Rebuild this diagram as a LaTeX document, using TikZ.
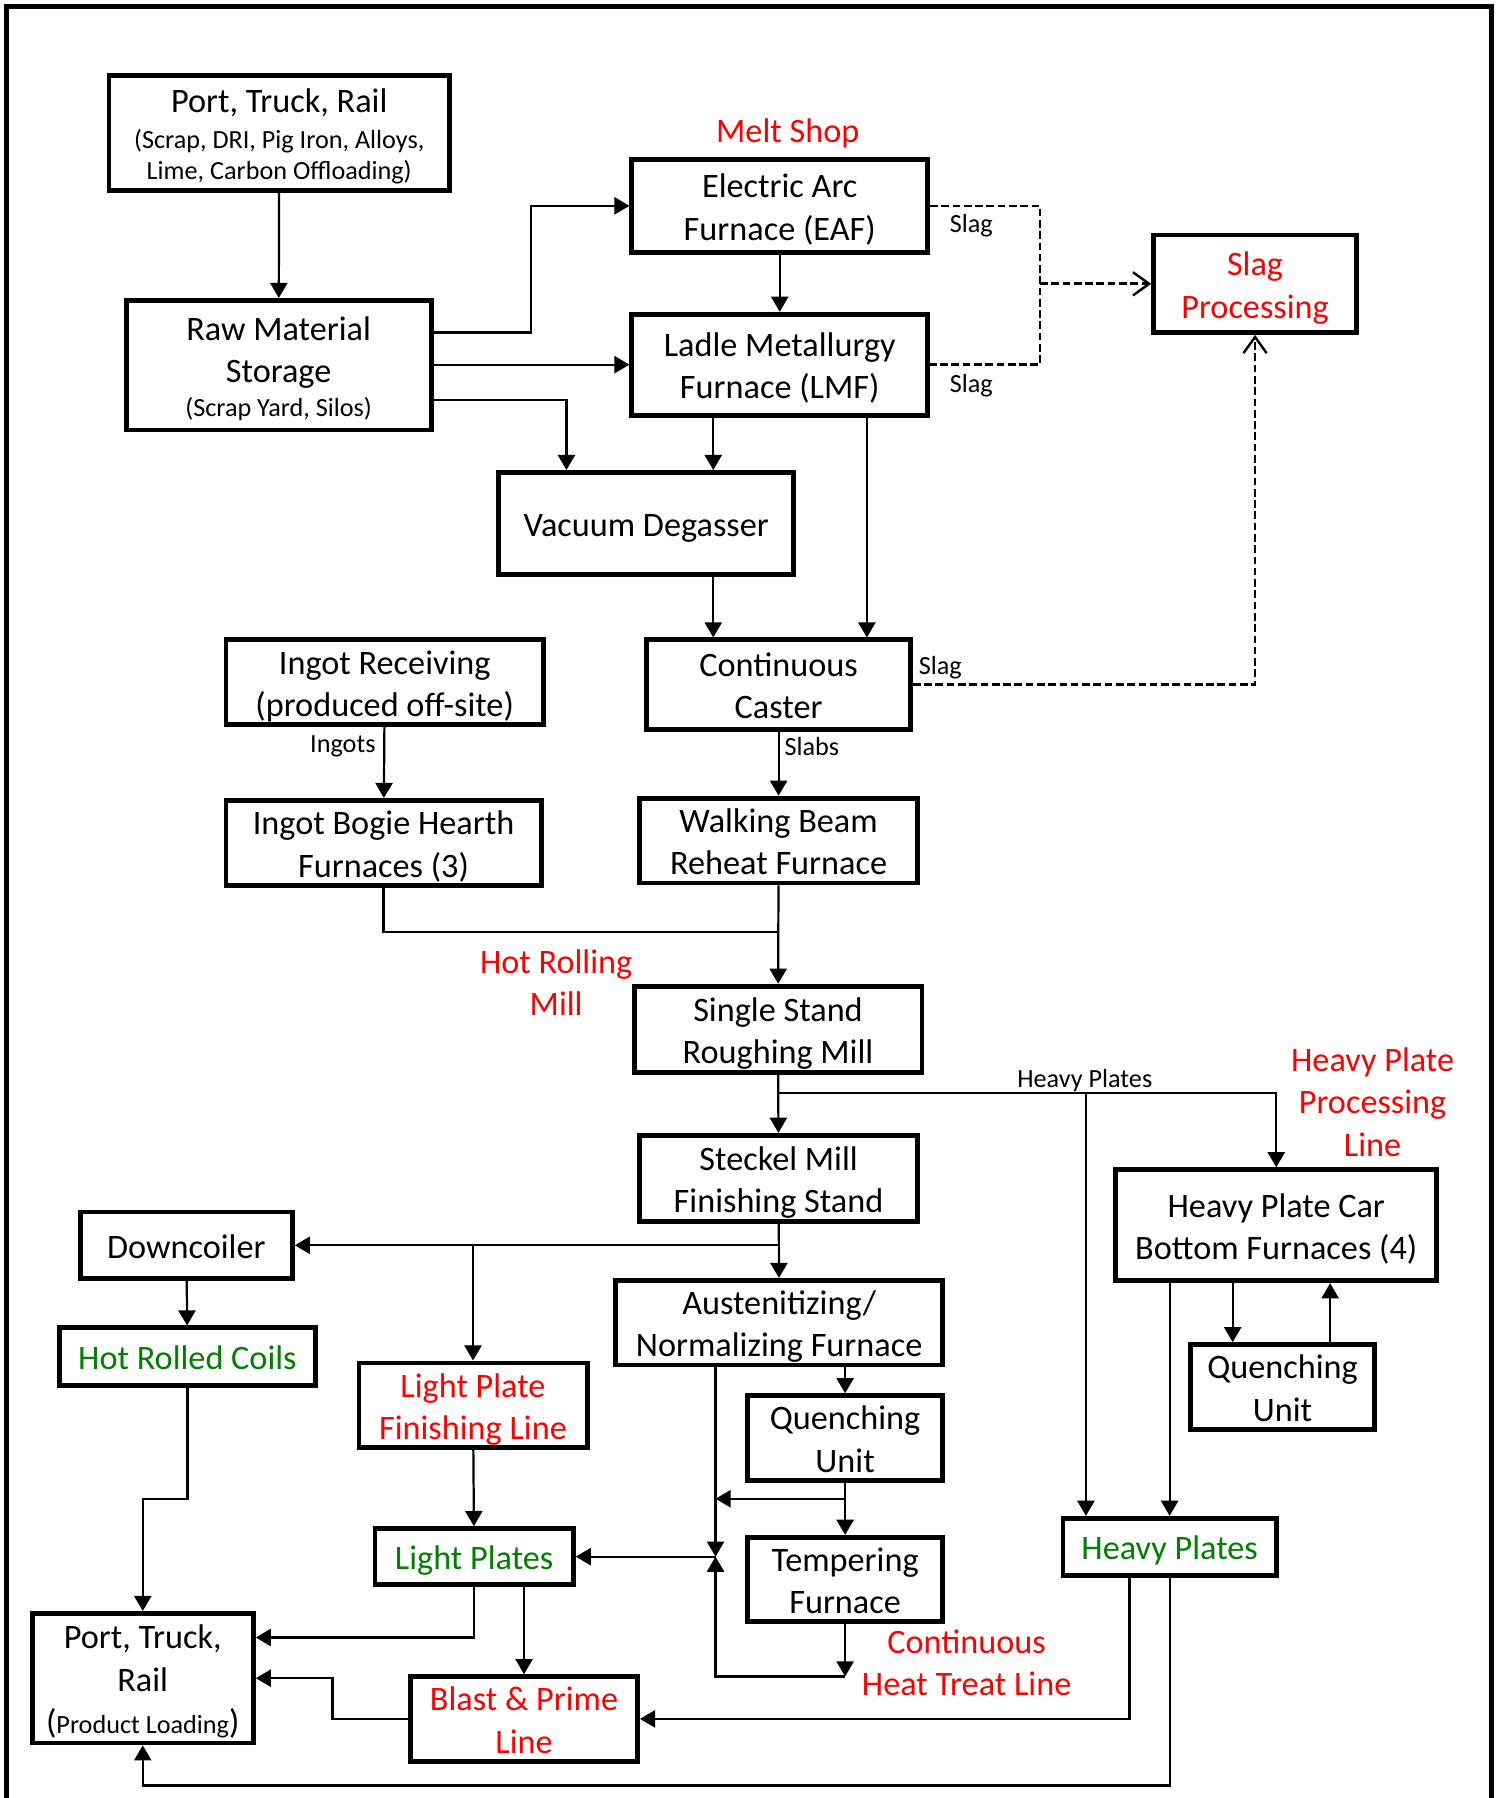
\documentclass[tikz,border=0pt]{standalone}
\usepackage{fontspec}
\setmainfont{Carlito}
\usetikzlibrary{arrows.meta}
\definecolor{hdrred}{RGB}{255,0,0}
\definecolor{prodgreen}{RGB}{0,128,0}
\newcommand{\boxfont}{\fontsize{17}{21}\selectfont}
\newcommand{\lblfont}{\fontsize{13}{15.5}\selectfont}
\newcommand{\tp}{\rule{0pt}{17pt}}
\newcommand{\bt}{\rule[-4pt]{0pt}{0pt}}
\begin{document}
\begin{tikzpicture}[x=0.02cm,y=-0.02cm]
\tikzstyle{box}=[draw,line width=2.4pt,inner sep=0pt,align=center,font=\boxfont]
\tikzstyle{arr}=[line width=1.1pt,-{Triangle[length=7.5pt,width=8.5pt]}]
\tikzstyle{link}=[line width=1.1pt]
\tikzstyle{slagline}=[line width=1.3pt,dash pattern=on 3.8pt off 1.8pt]
\tikzstyle{slagarr}=[slagline,-{Straight Barb[length=8pt,width=11.5pt,line width=1.2pt]}]
\tikzstyle{tag}=[font=\lblfont,inner sep=0pt]
\tikzstyle{head}=[font=\boxfont,text=hdrred,align=center,inner sep=0pt]
\useasboundingbox (0,0) rectangle (1304,1568);
\draw[line width=2.6pt] (6,1600) -- (6,6) -- (1301,6) -- (1301,1600);
\node[box,minimum width=5.94cm,minimum height=2cm] at (243.5,116) (portin) {\tp Port, Truck, Rail\\[-3.5pt]{\lblfont (Scrap, DRI, Pig Iron, Alloys,}\\[-5.5pt]{\lblfont Lime, Carbon Offloading)\bt}};
\node[box,minimum width=5.32cm,minimum height=2.26cm] at (243,318.5) (raw) {\tp Raw Material\\Storage\\[-4.5pt]{\lblfont (Scrap Yard, Silos)\bt}};
\node[box,minimum width=5.16cm,minimum height=1.62cm] at (680,179.5) (eaf) {\tp Electric Arc\\Furnace (EAF)\bt};
\node[box,minimum width=5.16cm,minimum height=1.76cm] at (680,318) (lmf) {\tp Ladle Metallurgy\\Furnace (LMF)\bt};
\node[box,text=hdrred,minimum width=3.54cm,minimum height=1.7cm] at (1094.5,247.5) (slagproc) {\tp Slag\\Processing\bt};
\node[box,minimum width=5.14cm,minimum height=1.78cm] at (563.5,456.5) (vd) {\tp Vacuum Degasser\bt};
\node[box,minimum width=5.54cm,minimum height=1.48cm] at (335.5,595) (ingrec) {\tp Ingot Receiving\\(produced off-site)\bt};
\node[box,minimum width=4.6cm,minimum height=1.56cm] at (679,597) (cc) {\tp Continuous\\Caster\bt};
\node[box,minimum width=5.5cm,minimum height=1.48cm] at (334.5,735) (bogie) {\tp Ingot Bogie Hearth\\Furnaces (3)\bt};
\node[box,minimum width=4.84cm,minimum height=1.48cm] at (679,733) (wbeam) {\tp Walking Beam\\Reheat Furnace\bt};
\node[box,minimum width=5.02cm,minimum height=1.5cm] at (678.5,897.5) (rough) {\tp Single Stand\\Roughing Mill\bt};
\node[box,minimum width=4.84cm,minimum height=1.5cm] at (679,1027.5) (steckel) {\tp Steckel Mill\\Finishing Stand\bt};
\node[box,minimum width=5.6cm,minimum height=1.94cm] at (1113,1068.5) (hpcar) {\tp Heavy Plate Car\\Bottom Furnaces (4)\bt};
\node[box,minimum width=3.7cm,minimum height=1.16cm] at (162.5,1086) (downc) {\tp Downcoiler\bt};
\node[box,minimum width=5.7cm,minimum height=1.46cm] at (679.5,1153.5) (aust) {\tp Austenitizing/\\Normalizing Furnace\bt};
\node[box,minimum width=3.22cm,minimum height=1.34cm] at (1118.5,1209.5) (qright) {\tp Quenching\\Unit\bt};
\node[box,text=prodgreen,minimum width=4.46cm,minimum height=1cm] at (163.5,1183) (hrc) {\tp Hot Rolled Coils\bt};
\node[box,text=hdrred,minimum width=3.98cm,minimum height=1.46cm] at (412.5,1225.5) (lpfl) {\tp Light Plate\\Finishing Line\bt};
\node[box,minimum width=3.4cm,minimum height=1.36cm] at (737,1254) (qmid) {\tp Quenching\\Unit\bt};
\node[box,text=prodgreen,minimum width=3.46cm,minimum height=0.98cm] at (413.5,1357.5) (lplates) {\tp Light Plates\bt};
\node[box,minimum width=3.4cm,minimum height=1.38cm] at (737,1377.5) (temper) {\tp Tempering\\Furnace\bt};
\node[box,text=prodgreen,minimum width=3.72cm,minimum height=1cm] at (1020,1349) (hplates) {\tp Heavy Plates\bt};
\node[box,minimum width=3.86cm,minimum height=2.26cm] at (124.5,1463.5) (portout) {\tp Port, Truck,\\Rail\\({\lblfont Product Loading})\bt};
\node[box,text=hdrred,minimum width=3.96cm,minimum height=1.44cm] at (457,1499) (blast) {\tp Blast \& Prime\\Line\bt};
\node[head] at (687,116) (meltshop) {Melt Shop};
\node[head] at (485,857) (hotroll) {Hot Rolling\\Mill};
\node[head] at (1197,961) (hpline) {Heavy Plate\\Processing\\Line};
\node[head] at (843,1450) (htline) {Continuous\\Heat Treat Line};
\node[tag] at (847,197) (slagA) {Slag};
\node[tag] at (847,336) (slagB) {Slag};
\node[tag] at (820,582) (slagC) {Slag};
\node[tag] at (299,651) (ingots) {Ingots};
\node[tag] at (708,651) (slabs) {Slabs};
\node[tag] at (946,942) (hvytag) {Heavy Plates};
\coordinate (hpsplit) at (947,953);
\coordinate (csplit) at (679,1086);
\coordinate (hjoin) at (624,1357.5);
\coordinate (tbot) at (737,1462);
\draw[arr] (portin) -- (raw);
\draw[arr] (raw.east |- 0,290) -- (463,290) |- (eaf.west);
\draw[arr] (raw.east |- lmf.west) -- (lmf.west);
\draw[arr] (raw.east |- 0,349) -| (494,0 |- vd.north);
\draw[arr] (eaf) -- (lmf);
\draw[arr] (622,0 |- lmf.south) -- (622,0 |- vd.north);
\draw[arr] (756,0 |- lmf.south) -- (756,0 |- cc.north);
\draw[arr] (622,0 |- vd.south) -- (622,0 |- cc.north);
\draw[slagline] (eaf.east) -- (907,179.5) -- (907,318) -- (lmf.east);
\draw[slagarr] (907,247.5) -- (slagproc.west);
\draw[slagarr] (cc.east) -| (slagproc.south);
\draw[arr] (ingrec) -- (bogie);
\draw[arr] (cc) -- (wbeam);
\draw[link] (bogie.south) |- (wbeam.south |- 0,813);
\draw[arr] (wbeam) -- (rough);
\draw[arr] (rough) -- (steckel);
\draw[arr] (rough.south |- hpsplit) -| (hpcar.north);
\draw[arr] (hpsplit) -- (hpsplit |- hplates.north);
\draw[arr] (steckel) -- (aust);
\draw[arr] (csplit) -- (downc.east);
\draw[arr] (lpfl.north |- csplit) -- (lpfl.north);
\draw[arr] (downc) -- (hrc);
\draw[arr] (hrc.south) -- (hrc.south |- 0,1307) -| (portout.north);
\draw[arr] (lpfl) -- (lplates);
\draw[arr] (lplates.south) |- (portout.east |- 0,1428);
\draw[arr] (457,0 |- lplates.south) -- (blast.north);
\draw[arr] (blast.west) -- (290,1499) |- (portout.east);
\draw[arr] (985,0 |- hplates.south) |- (blast.east);
\draw[arr] (hplates.south) -- (1020,1557) -| (portout.south);
\draw[arr] (1020,0 |- hpcar.south) -- (hplates.north);
\draw[arr] (1075,0 |- hpcar.south) -- (1075,0 |- qright.north);
\draw[arr] (1160,0 |- qright.north) -- (1160,0 |- hpcar.south);
\draw[arr] (qmid.north |- aust.south) -- (qmid.north);
\draw[arr] (hjoin |- aust.south) -- (hjoin);
\draw[arr] (qmid) -- (temper);
\draw[arr] (qmid.south |- 0,1307) -- (hjoin |- 0,1307);
\draw[arr] (hjoin) -- (lplates.east);
\draw[arr] (temper.south) -- (tbot);
\draw[arr] (tbot) -| (hjoin);
\end{tikzpicture}
\end{document}
